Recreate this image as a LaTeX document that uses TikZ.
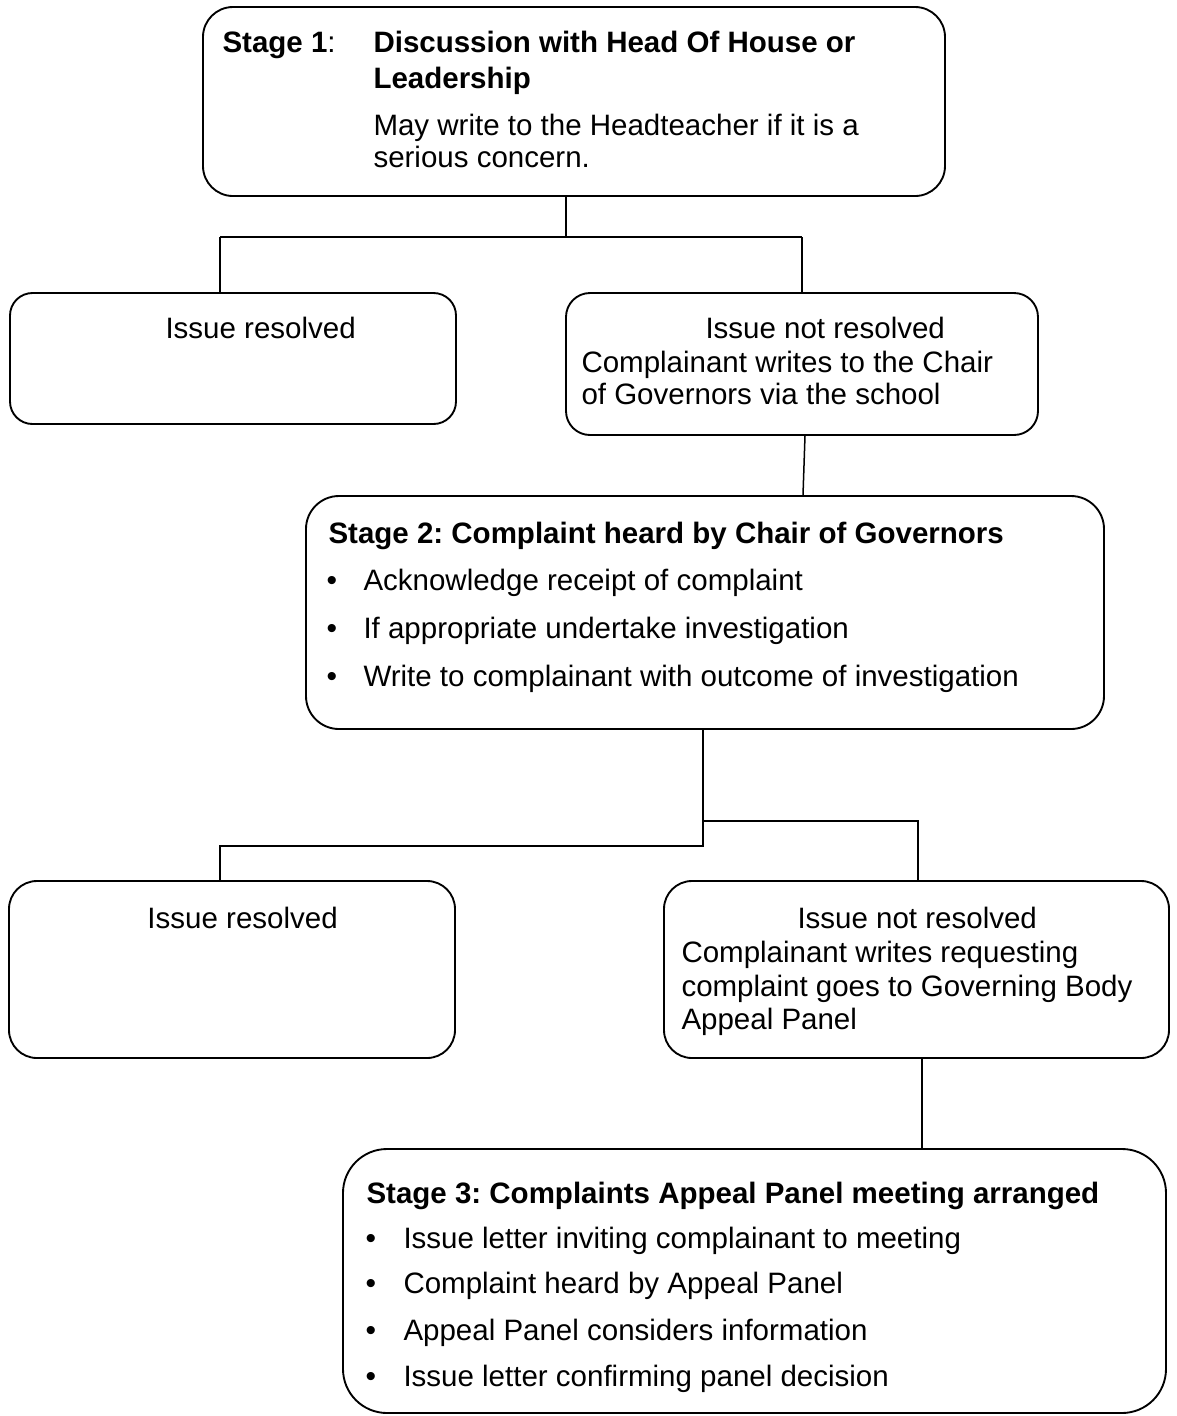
\documentclass[tikz,border=0pt]{standalone}
\usepackage{fontspec}
\setmainfont{Liberation Sans}
\frenchspacing
\tikzset{
  box/.style={draw, line width=0.75pt, inner sep=0pt},
  link/.style={draw, line width=0.6pt},
  txt/.style={anchor=base west, inner sep=0pt, font=\fontsize{11.8}{14}\selectfont},
}
\begin{document}
\begin{tikzpicture}[x=0.4pt,y=-0.4pt]
\useasboundingbox (0,0) rectangle (1176,1416);
\node[box, rounded corners=12pt, minimum width=296.8pt, minimum height=75.6pt] (s1) at (574,101.5) {};
\node[box, rounded corners=9pt, minimum width=178.4pt, minimum height=52.4pt] (ok1) at (233,358.5) {};
\node[box, rounded corners=9.6pt, minimum width=188.8pt, minimum height=56.8pt] (no1) at (802,364) {};
\node[box, rounded corners=13.2pt, minimum width=319.2pt, minimum height=93.2pt] (s2) at (705,612.5) {};
\node[box, rounded corners=11.2pt, minimum width=178.4pt, minimum height=70.8pt] (ok2) at (232,969.5) {};
\node[box, rounded corners=11.2pt, minimum width=202pt, minimum height=70.8pt] (no2) at (916.5,969.5) {};
\node[box, rounded corners=17.6pt, minimum width=329.2pt, minimum height=105.6pt] (s3) at (754.5,1281) {};

\node[txt] (t1) at (222,52) {{\bfseries Stage 1}:};
\node[txt] (t2) at (373,52) {\bfseries Discussion with Head Of House or};
\node[txt] (t3) at (373,88) {\bfseries Leadership};
\node[txt] (t4) at (373,135) {May write to the Headteacher if it is a};
\node[txt] (t5) at (373,167) {serious concern.};

\node[txt] (t6) at (165,338) {Issue resolved};
\node[txt] (t7) at (705,338) {Issue not resolved};
\node[txt] (t8) at (581,372) {Complainant writes to the Chair};
\node[txt] (t9) at (581,404) {of Governors via the school};

\node[txt] (t10) at (328,543) {\bfseries Stage 2: Complaint heard by Chair of Governors};
\node[txt] (b1) at (326,590) {\large\textbullet};
\node[txt] (t11) at (363,590) {Acknowledge receipt of complaint};
\node[txt] (b2) at (326,638) {\large\textbullet};
\node[txt] (t12) at (363,638) {If appropriate undertake investigation};
\node[txt] (b3) at (326,686) {\large\textbullet};
\node[txt] (t13) at (363,686) {Write to complainant with outcome of investigation};

\node[txt] (t14) at (147,928) {Issue resolved};
\node[txt] (t15) at (797,928) {Issue not resolved};
\node[txt] (t16) at (681,962) {Complainant writes requesting};
\node[txt] (t17) at (681,996) {complaint goes to Governing Body};
\node[txt] (t18) at (681,1029) {Appeal Panel};

\node[txt] (t19) at (366,1203) {\bfseries Stage 3: Complaints Appeal Panel meeting arranged};
\node[txt] (b4) at (365,1248) {\large\textbullet};
\node[txt] (t20) at (403,1248) {Issue letter inviting complainant to meeting};
\node[txt] (b5) at (365,1293) {\large\textbullet};
\node[txt] (t21) at (403,1293) {Complaint heard by Appeal Panel};
\node[txt] (b6) at (365,1340) {\large\textbullet};
\node[txt] (t22) at (403,1340) {Appeal Panel considers information};
\node[txt] (b7) at (365,1386) {\large\textbullet};
\node[txt] (t23) at (403,1386) {Issue letter confirming panel decision};

\coordinate (j1) at (566,237);
\coordinate (l1) at (220,237);
\coordinate (r1) at (802,237);
\draw[link] (s1.south -| j1) -- (j1);
\draw[link] (l1) -- (r1);
\draw[link] (l1) -- (ok1.north -| l1);
\draw[link] (r1) -- (no1.north -| r1);

\draw[link] ([xshift=1.2pt]no1.south) -- ([xshift=39.2pt]s2.north);

\coordinate (j2) at (703,846);
\coordinate (k2) at (703,821);
\coordinate (l2) at (220,846);
\coordinate (r2) at (918,821);
\draw[link] (s2.south -| j2) -- (j2) -- (l2) -- (ok2.north -| l2);
\draw[link] (k2) -- (r2) -- (no2.north -| r2);

\coordinate (c3) at (922,1100);
\draw[link] (no2.south -| c3) -- (s3.north -| c3);
\end{tikzpicture}
\end{document}
